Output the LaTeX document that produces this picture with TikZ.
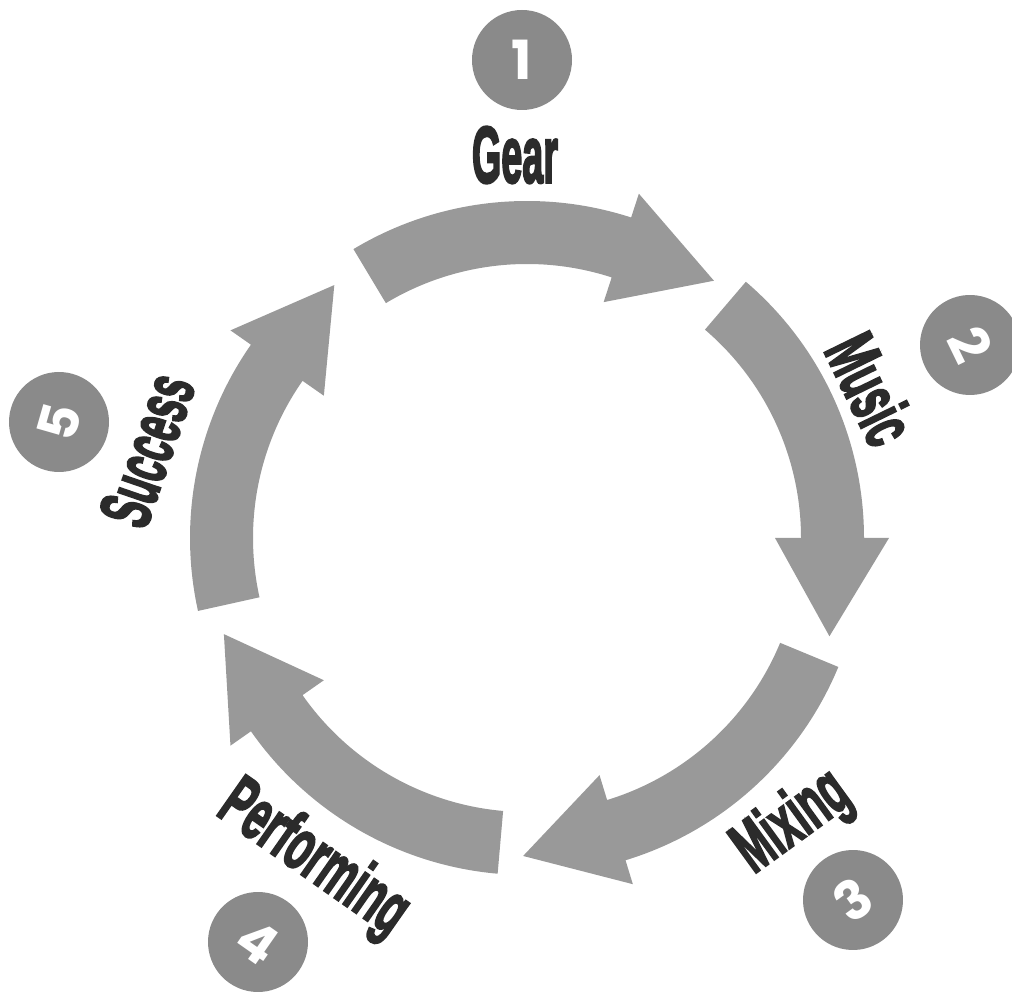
\documentclass[tikz,border=0pt]{standalone}
\usepackage{fontspec}
\usepackage{graphicx}
\newfontfamily\labfont{Liberation Sans}[BoldFeatures={FakeBold=3.5}]
\newfontfamily\numfont{Poppins}
\definecolor{arrowgray}{HTML}{999999}
\definecolor{circlegray}{HTML}{8A8A8A}
\definecolor{labelcolor}{HTML}{2B2B2B}
\newcommand\ringarrow[3]{%
  \fill[ringfill] ([shift={(#1:337)}]C) arc[start angle=#1,end angle=#2,radius=337]
    -- ([shift={(#2:362)}]C) -- ([shift={(#3:318)}]C) -- ([shift={(#2:248)}]C)
    -- ([shift={(#2:274)}]C) arc[start angle=#2,end angle=#1,radius=274] -- cycle;}
\begin{document}
\begin{tikzpicture}[x=1pt,y=1pt,
  ringfill/.style={fill=arrowgray},
  numcircle/.style={circle,fill=circlegray,minimum size=100pt,inner sep=0pt,text=white,
    font=\numfont\bfseries\fontsize{54}{54}\selectfont},
  lab/.style={inner sep=0pt,text=labelcolor},
  bigfont/.style={font=\labfont\bfseries\fontsize{80}{80}\selectfont},
  midfont/.style={font=\labfont\bfseries\fontsize{72}{72}\selectfont}]
\useasboundingbox (0,0) rectangle (1012,991);
\coordinate (C) at (527,453);
% ring arrows
\ringarrow{121}{72}{54}
\ringarrow{49.5}{0}{-18}
\ringarrow{-22.5}{-73}{-90.7}
\ringarrow{-95}{-145}{-162.4}
\ringarrow{192.5}{145}{127.3}
% labels
\node[lab,bigfont] (gear) at (515,836) {\resizebox{86pt}{\height}{Gear}};
\node[lab,midfont,rotate=-64] (music) at (871,602) {\resizebox{112pt}{\height}{Music}};
\node[lab,midfont,rotate=36] (mixing) at (793,168) {\resizebox{124pt}{\height}{Mixing}};
\node[lab,midfont,rotate=-35] (performing) at (313,131) {\resizebox{214pt}{\height}{Performing}};
\node[lab,midfont,rotate=71] (success) at (147,541) {\resizebox{155pt}{\height}{Success}};
% number circles
\node[numcircle] (n1) at (522,931) {1};
\node[numcircle,rotate=-64] (n2) at (970,646) {2};
\node[numcircle,rotate=36] (n3) at (853,91) {3};
\node[numcircle,rotate=-35] (n4) at (258,49) {4};
\node[numcircle,rotate=74] (n5) at (59,569) {5};
\end{tikzpicture}
\end{document}
